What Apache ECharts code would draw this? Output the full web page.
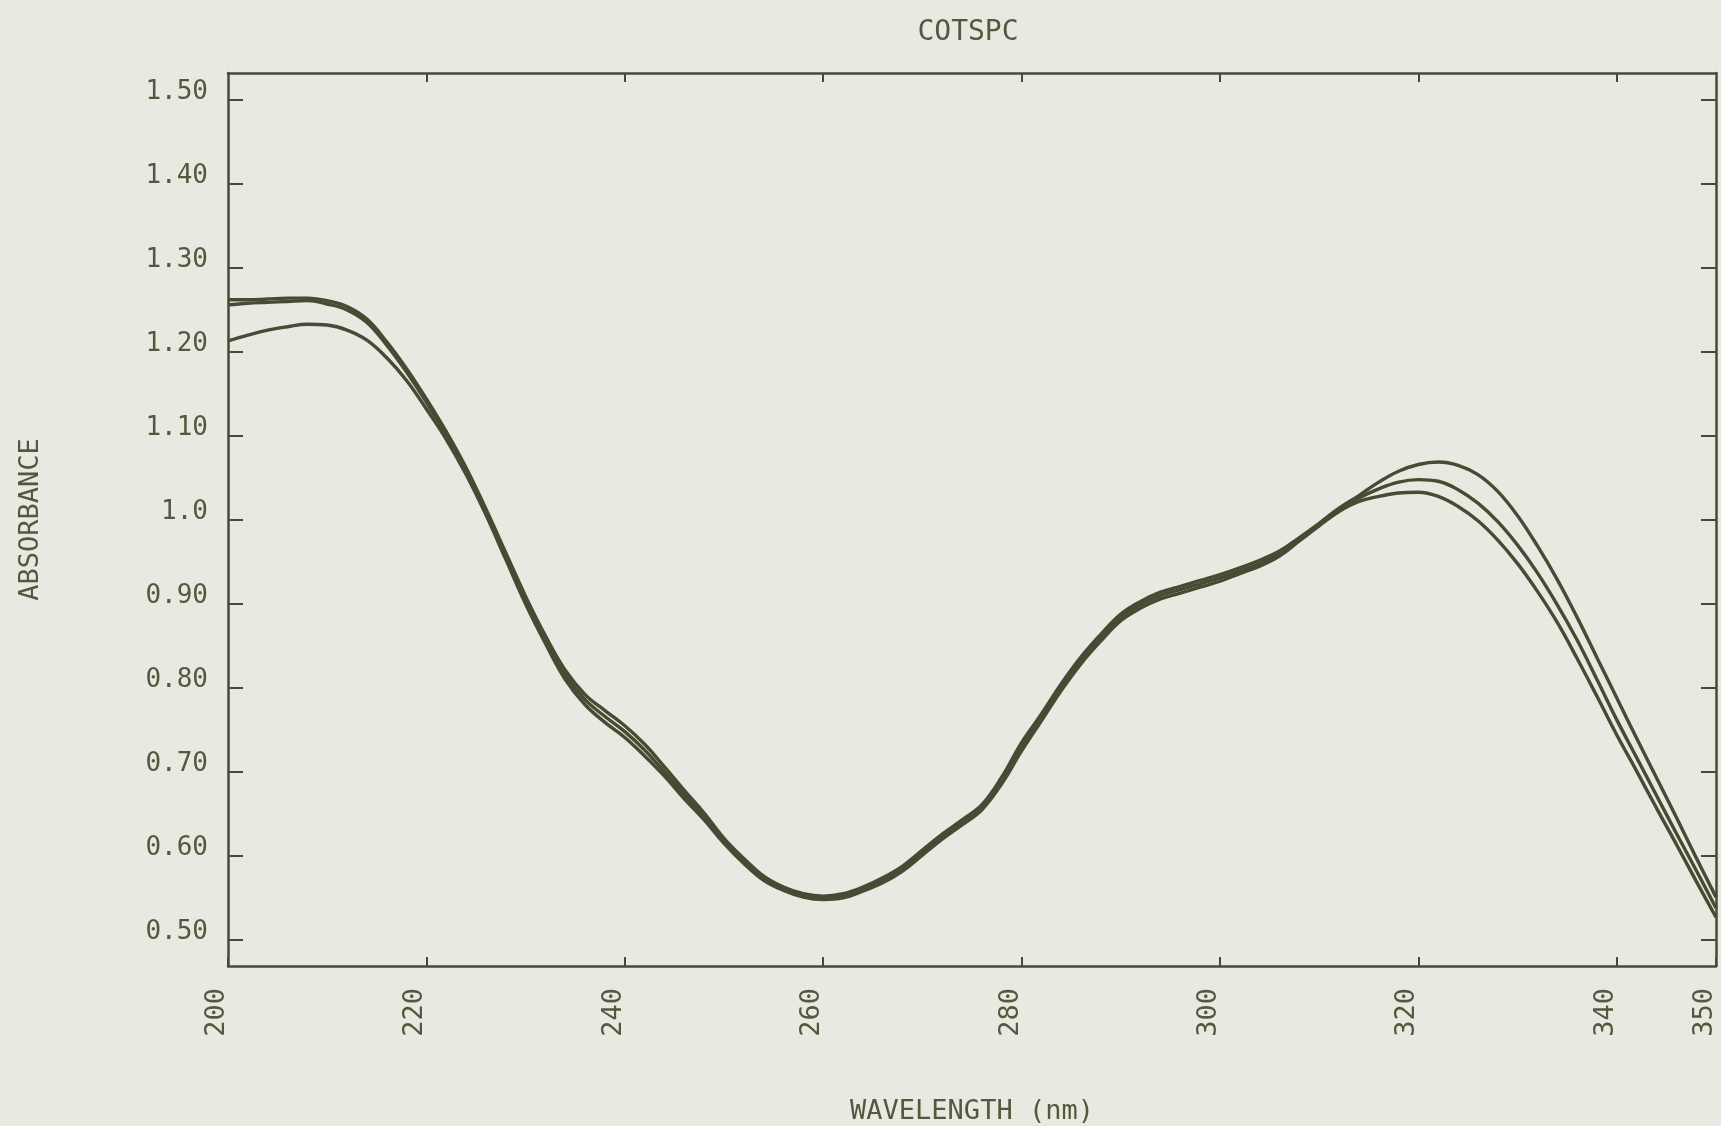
<!DOCTYPE html>
<html>
<head>
<meta charset="utf-8">
<title>COTSPC</title>
<script src="https://cdn.jsdelivr.net/npm/echarts@6/dist/echarts.min.js"></script>
<style>
  html, body { margin: 0; padding: 0; background: #e8e9e0; }
  #chart { width: 1721px; height: 1126px; }
</style>
</head>
<body>
<div id="chart"></div>
<script>
// wavelength samples (nm)
const wavelength = [
  200, 202, 204, 206, 208, 210, 212, 214, 216, 218,
  220, 222, 224, 226, 228, 230, 232, 234, 236, 238,
  240, 242, 244, 246, 248, 250, 252, 254, 256, 258,
  260, 262, 264, 266, 268, 270, 272, 274, 276, 278,
  280, 282, 284, 286, 288, 290, 292, 294, 296, 298,
  300, 302, 304, 306, 308, 310, 312, 314, 316, 318,
  320, 322, 324, 326, 328, 330, 332, 334, 336, 338,
  340, 342, 344, 346, 348, 350
];

// absorbance of the three spectra
const spectrumA = [
  1.262, 1.262, 1.263, 1.264, 1.264, 1.261, 1.254, 1.239, 1.212, 1.180,
  1.144, 1.105, 1.062, 1.013, 0.961, 0.909, 0.862, 0.821, 0.792, 0.773,
  0.755, 0.733, 0.706, 0.678, 0.651, 0.621, 0.597, 0.576, 0.563, 0.555,
  0.552, 0.555, 0.563, 0.574, 0.588, 0.607, 0.626, 0.643, 0.661, 0.694,
  0.735, 0.769, 0.805, 0.837, 0.864, 0.888, 0.903, 0.914, 0.921, 0.928,
  0.935, 0.943, 0.952, 0.963, 0.979, 0.996, 1.014, 1.029, 1.045, 1.058,
  1.066, 1.069, 1.065, 1.054, 1.034, 1.005, 0.969, 0.929, 0.884, 0.836,
  0.788, 0.740, 0.693, 0.646, 0.598, 0.551
];
const spectrumB = [
  1.256, 1.258, 1.259, 1.260, 1.261, 1.257, 1.250, 1.235, 1.208, 1.176,
  1.140, 1.101, 1.058, 1.009, 0.957, 0.905, 0.858, 0.816, 0.786, 0.766,
  0.748, 0.726, 0.700, 0.673, 0.647, 0.618, 0.594, 0.574, 0.561, 0.553,
  0.550, 0.552, 0.561, 0.571, 0.585, 0.604, 0.623, 0.640, 0.658, 0.690,
  0.730, 0.765, 0.801, 0.833, 0.860, 0.884, 0.899, 0.910, 0.917, 0.924,
  0.931, 0.939, 0.948, 0.960, 0.977, 0.995, 1.012, 1.026, 1.037, 1.045,
  1.048, 1.046, 1.036, 1.020, 0.998, 0.970, 0.937, 0.899, 0.857, 0.810,
  0.762, 0.717, 0.672, 0.627, 0.583, 0.538
];
const spectrumC = [
  1.213, 1.220, 1.226, 1.230, 1.233, 1.232, 1.226, 1.214, 1.193, 1.166,
  1.132, 1.096, 1.054, 1.006, 0.953, 0.900, 0.853, 0.810, 0.780, 0.759,
  0.741, 0.719, 0.695, 0.668, 0.643, 0.615, 0.591, 0.571, 0.559, 0.551,
  0.548, 0.550, 0.558, 0.568, 0.582, 0.601, 0.620, 0.637, 0.655, 0.686,
  0.725, 0.761, 0.797, 0.829, 0.856, 0.880, 0.895, 0.906, 0.913, 0.920,
  0.927, 0.936, 0.945, 0.957, 0.975, 0.993, 1.010, 1.022, 1.028, 1.032,
  1.033, 1.028, 1.016, 0.999, 0.976, 0.948, 0.915, 0.878, 0.835, 0.790,
  0.744, 0.701, 0.657, 0.614, 0.570, 0.527
];

// tick positions and labels
const xTicks = [200, 220, 240, 260, 280, 300, 320, 340, 350];
const yTicks = [0.5, 0.6, 0.7, 0.8, 0.9, 1.0, 1.1, 1.2, 1.3, 1.4, 1.5];
const yTickLabels = ['0.50', '0.60', '0.70', '0.80', '0.90', '1.0', '1.10', '1.20', '1.30', '1.40', '1.50'];

const ink = '#474b33';
const textInk = '#55583f';
const font = 'DejaVu Sans Mono';

const chart = echarts.init(document.getElementById('chart'));

function pairs(ys) {
  return wavelength.map((x, i) => [x, ys[i]]);
}

const lineSeries = [spectrumA, spectrumB, spectrumC].map((ys, i) => ({
  name: 'spectrum ' + (i + 1),
  type: 'line',
  xAxisIndex: 0,
  yAxisIndex: 0,
  data: pairs(ys),
  smooth: 0.4,
  showSymbol: false,
  symbol: 'none',
  lineStyle: { color: ink, width: 3.4 },
  z: 3
}));

const options = {
  backgroundColor: '#e8e9e0',
  animation: false,
  title: {
    text: 'COTSPC',
    left: 963,
    top: 14,
    textAlign: 'center',
    textStyle: {
      color: textInk,
      fontFamily: font,
      fontSize: 28,
      fontWeight: 'normal'
    }
  },
  grid: {
    left: 228,
    right: 5,
    top: 73,
    bottom: 160,
    outerBoundsMode: 'none'
  },
  xAxis: [
    {
      type: 'value',
      position: 'bottom',
      min: 200,
      max: 350,
      name: 'WAVELENGTH (nm)',
      nameLocation: 'middle',
      nameGap: 132,
      nameTextStyle: { color: textInk, fontFamily: font, fontSize: 27 },
      axisLine: { show: true, lineStyle: { color: ink, width: 2.5 } },
      axisTick: { show: true, inside: true, length: 9, customValues: xTicks, lineStyle: { color: ink, width: 2 } },
      axisLabel: {
        customValues: xTicks,
        rotate: 90,
        margin: 22,
        verticalAlign: 'bottom',
        lineHeight: 22,
        color: textInk,
        fontFamily: font,
        fontSize: 27
      },
      splitLine: { show: false }
    },
    {
      type: 'value',
      position: 'top',
      min: 200,
      max: 350,
      axisLine: { show: true, lineStyle: { color: ink, width: 2.5 } },
      axisTick: { show: true, inside: true, length: 9, customValues: xTicks.slice(1, -1), lineStyle: { color: ink, width: 2 } },
      axisLabel: { show: false },
      splitLine: { show: false }
    }
  ],
  yAxis: [
    {
      type: 'value',
      position: 'left',
      min: 0.469,
      max: 1.532,
      name: 'ABSORBANCE',
      nameLocation: 'middle',
      nameRotate: 90,
      nameGap: 184,
      nameTextStyle: { color: textInk, fontFamily: font, fontSize: 27 },
      axisLine: { show: true, lineStyle: { color: ink, width: 2.5 } },
      axisTick: { show: true, inside: true, length: 15, customValues: yTicks, lineStyle: { color: ink, width: 2 } },
      axisLabel: {
        customValues: yTicks,
        margin: 20,
        verticalAlign: 'bottom',
        lineHeight: 16,
        color: textInk,
        fontFamily: font,
        fontSize: 26,
        formatter: function (value) {
          const idx = yTicks.findIndex(t => Math.abs(t - value) < 1e-6);
          return idx >= 0 ? yTickLabels[idx] : '';
        }
      },
      splitLine: { show: false }
    },
    {
      type: 'value',
      position: 'right',
      min: 0.469,
      max: 1.532,
      axisLine: { show: true, lineStyle: { color: ink, width: 2.5 } },
      axisTick: { show: true, inside: true, length: 15, customValues: yTicks, lineStyle: { color: ink, width: 2 } },
      axisLabel: { show: false },
      splitLine: { show: false }
    }
  ],
  series: lineSeries
};

chart.setOption(options);
window.addEventListener('resize', () => {
  if (chart) {
    chart.resize();
  }
});
</script>
</body>
</html>
